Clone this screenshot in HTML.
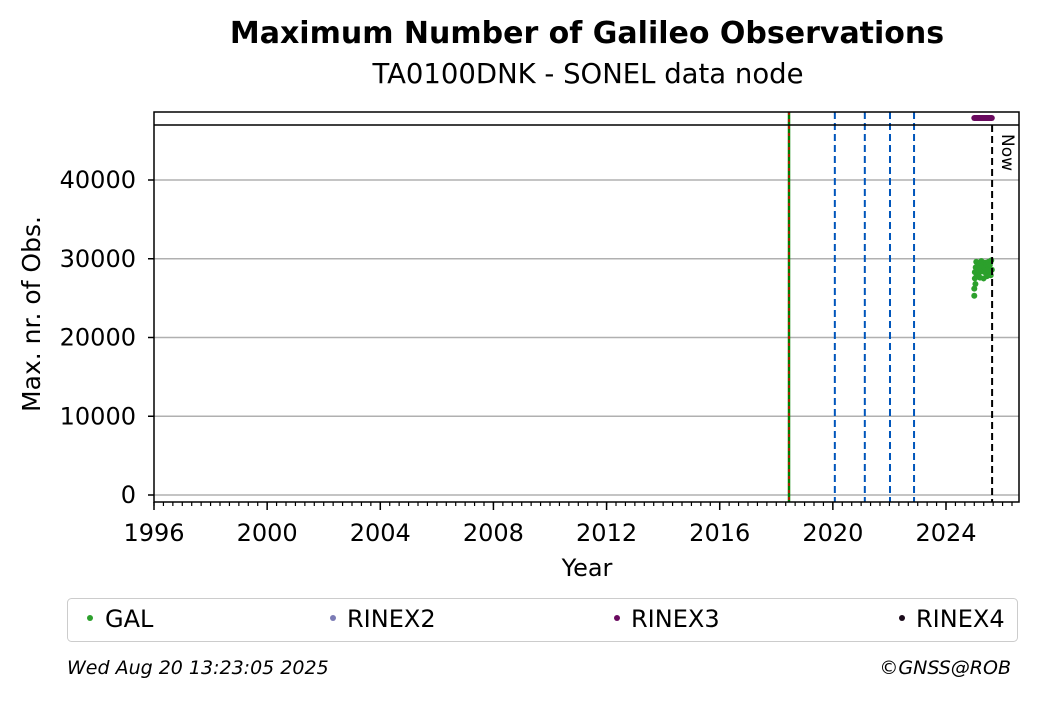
<!DOCTYPE html>
<html><head><meta charset="utf-8"><style>
body{margin:0;background:#fff;font-family:"Liberation Sans","DejaVu Sans",sans-serif}
svg text{font-family:"DejaVu Sans","Liberation Sans",sans-serif}
</style></head><body>
<svg id="c" width="1040" height="699" xmlns="http://www.w3.org/2000/svg">
<text x="587" y="43" text-anchor="middle" font-size="30" font-weight="bold">Maximum Number of Galileo Observations</text>
<text x="588" y="83" text-anchor="middle" font-size="27.5">TA0100DNK - SONEL data node</text>
<g id="plot"></g>
<text x="587" y="576" text-anchor="middle" font-size="24">Year</text>
<text transform="translate(40,314) rotate(-90)" text-anchor="middle" font-size="25">Max. nr. of Obs.</text>
<rect x="67.5" y="598.5" width="950" height="43" rx="4" fill="#fff" stroke="#ccc"/>
<g><circle cx="90" cy="618" r="3" fill="#2ca02c"/><text x="105" y="627" font-size="24">GAL</text></g>
<g><circle cx="333" cy="618" r="3" fill="#7b7bb5"/><text x="347" y="627" font-size="24">RINEX2</text></g>
<g><circle cx="617" cy="618" r="3" fill="#6a0a5f"/><text x="631" y="627" font-size="24">RINEX3</text></g>
<g><circle cx="902" cy="618" r="3" fill="#1a0a1a"/><text x="916" y="627" font-size="24">RINEX4</text></g>
<text x="67" y="674" font-size="19" font-style="italic">Wed Aug 20 13:23:05 2025</text>
<text x="1011" y="674" font-size="19" font-style="italic" text-anchor="end">©GNSS@ROB</text>
</svg>
<script>
const yTicks=[0,10000,20000,30000,40000];
const xTicks=[1996,2000,2004,2008,2012,2016,2020,2024];
const galDates=[2025.0,2025.0,2025.02,2025.02,2025.04,2025.05,2025.07,2025.08,2025.1,2025.12,2025.15,2025.18,2025.2,2025.22,2025.25,2025.28,2025.3,2025.33,2025.35,2025.38,2025.4,2025.42,2025.45,2025.48,2025.5,2025.52,2025.55,2025.58,2025.6,2025.62];
const galValues=[25300,26200,27500,28300,26800,28900,29600,27800,28600,29200,28100,29500,27600,28800,29700,28400,29100,27500,28900,29500,28200,29300,27800,28700,29600,28500,29200,27900,29800,28600];
const rinex3Dates=[2025.0,2025.62];
const eventLines=[2018.45];
const equipLines=[2020.07,2021.13,2022.02,2022.87];
const nowDate=2025.63;
const X0=154,X1=1019,Y0=112,Y1=502;
const xs=v=>154+(v-1996)*(946-154)/28;
const ys=v=>495-v*(495-180)/40000;
const g=document.getElementById('plot');const NS='http://www.w3.org/2000/svg';
function mk(t,a){const e=document.createElementNS(NS,t);for(const k in a)e.setAttribute(k,a[k]);g.appendChild(e);return e;}
yTicks.forEach(v=>{const l=mk('line',{x1:X0,x2:X1,y1:ys(v),y2:ys(v),stroke:'#b0b0b0','stroke-width':1.5});

mk('line',{x1:X0-6,x2:X0,y1:ys(v),y2:ys(v),stroke:'#000','stroke-width':1.5});
const tx=mk('text',{x:X0-18,y:ys(v)+8,'text-anchor':'end','font-size':24});tx.textContent=v;
});
for(let k=0;k<=30*3+1;k++){const v=1996+k/3;const x=xs(v);if(x>X1)break;mk('line',{x1:x,x2:x,y1:Y1,y2:Y1+4,stroke:'#000','stroke-width':1.2});}
xTicks.forEach(v=>{mk('line',{x1:xs(v),x2:xs(v),y1:Y1,y2:Y1+8,stroke:'#000','stroke-width':1.5});
const tx=mk('text',{x:xs(v),y:Y1+39,'text-anchor':'middle','font-size':24});tx.textContent=v;
});
eventLines.forEach(v=>{const l=mk('line',{x1:xs(v),x2:xs(v),y1:Y0,y2:Y1,stroke:'#008000','stroke-width':2.5});

mk('line',{x1:xs(v),x2:xs(v),y1:Y0,y2:Y1,stroke:'#e00000','stroke-width':1.5,'stroke-dasharray':'3 4'});});
equipLines.forEach(v=>{const l=mk('line',{x1:xs(v),x2:xs(v),y1:Y0,y2:Y1,stroke:'#0055bb','stroke-width':2,'stroke-dasharray':'7 4'});
});
galDates.forEach((d,i)=>{const c=mk('circle',{cx:xs(d),cy:ys(galValues[i]),r:3,fill:'#2ca02c'});
});
const nl=mk('line',{x1:xs(nowDate),x2:xs(nowDate),y1:125,y2:Y1,stroke:'#000','stroke-width':2,'stroke-dasharray':'7 4'});

const nt=mk('text',{transform:`translate(${xs(nowDate)+10},134) rotate(90)`,'font-size':17});nt.textContent='Now';

const rb=mk('line',{x1:xs(rinex3Dates[0]),x2:xs(rinex3Dates[1]),y1:118,y2:118,stroke:'#6a0a5f','stroke-width':6,'stroke-linecap':'round'});

mk('line',{x1:X0,x2:X1,y1:125,y2:125,stroke:'#000','stroke-width':1.5});
const fr=mk('rect',{x:X0,y:Y0,width:X1-X0,height:Y1-Y0,fill:'none',stroke:'#000','stroke-width':1.5});

</script>
</body></html>
